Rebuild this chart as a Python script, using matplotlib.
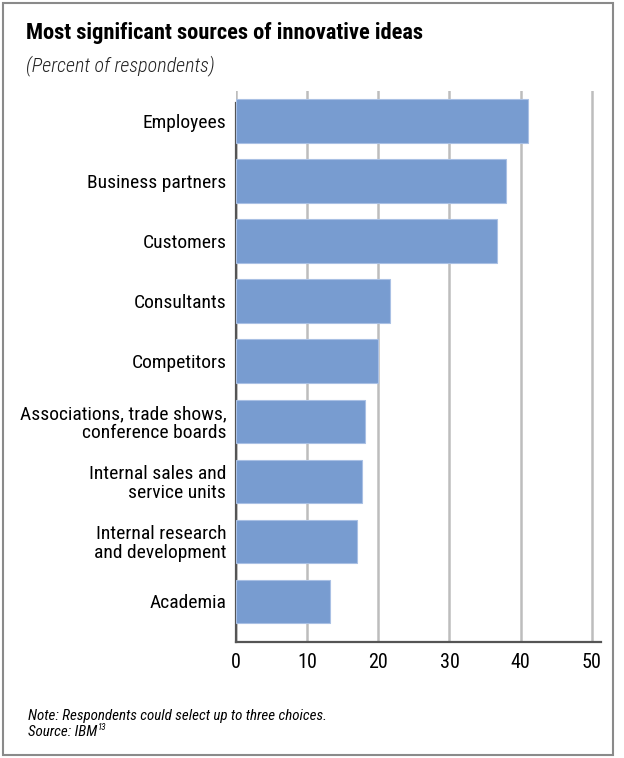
import matplotlib
matplotlib.use('Agg')
import matplotlib.pyplot as plt
from matplotlib.patches import Rectangle

# chart data
categories = ['Employees', 'Business partners', 'Customers', 'Consultants', 'Competitors',
              'Associations, trade shows,\nconference boards', 'Internal sales and\nservice units',
              'Internal research\nand development', 'Academia']
values = [41.0, 38.0, 36.7, 21.6, 20.0, 18.2, 17.7, 17.0, 13.2]
xticks = [0, 10, 20, 30, 40, 50]

plt.rcParams['font.family'] = ['Roboto Condensed', 'DejaVu Sans']

fig = plt.figure(figsize=(6.24, 7.58), dpi=100)
W, H = 624, 758
ax = fig.add_axes([236 / W, 1 - 642 / H, (601 - 236) / W, (642 - 91) / H])

ypos = list(range(len(categories)))
ax.barh(ypos, values, height=0.72, color='#789CD0', edgecolor='#A9C0E4', linewidth=0.8, zorder=3)

ax.set_xlim(0, 51.3)
ax.set_ylim(8.68, -0.5)
ax.set_xticks(xticks)
ax.set_xticklabels([str(t) for t in xticks], fontsize=14.5)
ax.set_yticks(ypos)
ax.set_yticklabels(categories, fontsize=14, linespacing=1.05)
ax.tick_params(axis='both', length=0, pad=8)
ax.tick_params(axis='y', pad=7)
ax.xaxis.grid(True, color='#BDBDBD', linewidth=1.8, zorder=0)
ax.set_axisbelow(True)
for s in ['top', 'right']:
    ax.spines[s].set_visible(False)
for s in ['left', 'bottom']:
    ax.spines[s].set_color('#555555')
    ax.spines[s].set_linewidth(1.6)
ax.spines['left'].set_bounds(8.68, -0.3)

fig.text(26 / W, 1 - 33 / H, 'Most significant sources of innovative ideas',
         fontsize=16.2, fontweight='bold', va='center', ha='left')
fig.text(26 / W, 1 - 66 / H, '(Percent of respondents)',
         fontsize=14.5, style='italic', fontweight='light', va='center', ha='left', color='#222222')
fig.text(28 / W, 1 - 716 / H, 'Note: Respondents could select up to three choices.',
         fontsize=10.8, style='italic', va='center', ha='left')
src = fig.text(28 / W, 1 - 732 / H, 'Source: IBM',
               fontsize=10.8, style='italic', va='center', ha='left')
fig.canvas.draw()
bb = src.get_window_extent()
fig.text(bb.x1 / W + 1 / W, 1 - 727 / H, '13', fontsize=6.5, style='italic', va='center', ha='left')

# outer frame
fig.patches.append(Rectangle((3 / W, 1 - 755 / H), 610 / W, 752 / H, transform=fig.transFigure,
                             fill=False, edgecolor='#8A8A8A', linewidth=1.5))

fig.savefig('out.png', dpi=100, facecolor='white')
